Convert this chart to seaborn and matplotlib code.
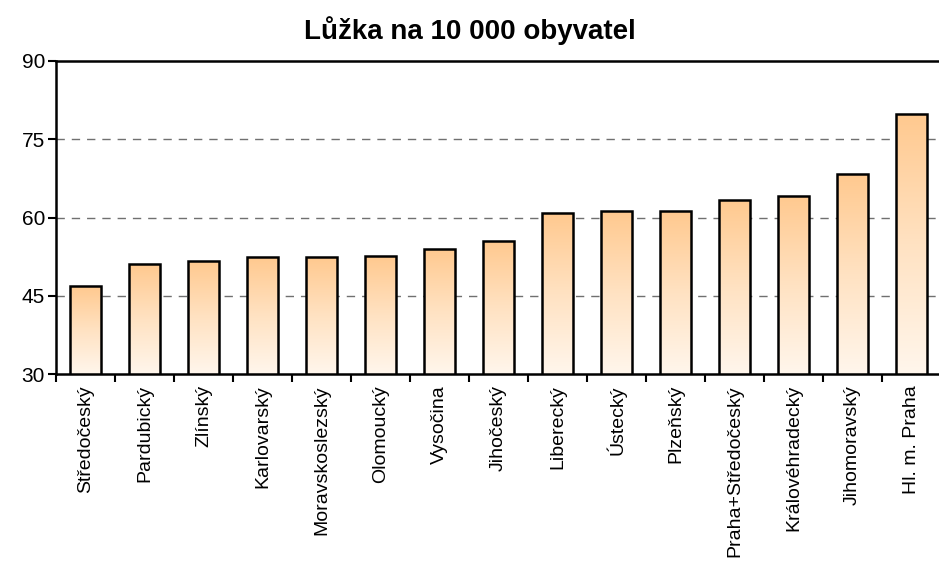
import matplotlib
matplotlib.use("Agg")
import matplotlib.pyplot as plt
import numpy as np
import pandas as pd
import seaborn as sns
from matplotlib.colors import LinearSegmentedColormap

# data
kraje = ["Středočeský", "Pardubický", "Zlínský", "Karlovarský", "Moravskoslezský",
         "Olomoucký", "Vysočina", "Jihočeský", "Liberecký", "Ústecký", "Plzeňský",
         "Praha+Středočeský", "Královéhradecký", "Jihomoravský", "Hl. m. Praha"]
luzka = [46.8, 51.0, 51.6, 52.4, 52.4, 52.6, 54.0, 55.4, 60.8, 61.2, 61.2,
         63.3, 64.2, 68.3, 79.8]
y_ticks = [30, 45, 60, 75, 90]

df = pd.DataFrame({"kraj": kraje, "luzka": luzka})

sns.set_style("white")
plt.rcParams['font.family'] = ['Liberation Sans', 'DejaVu Sans']
plt.rcParams['text.color'] = 'black'
plt.rcParams['xtick.color'] = 'black'
plt.rcParams['ytick.color'] = 'black'

fig = plt.figure(figsize=(9.39, 5.73), dpi=100)
ax = fig.add_axes([56 / 939, 199 / 573, 1 - 56 / 939 + 0.002, (374 - 61) / 573])

sns.barplot(data=df, x="kraj", y="luzka", color="white", width=0.52,
            edgecolor="black", linewidth=1.8, ax=ax, zorder=3)

# vertical orange -> white gradient inside every bar
grad = LinearSegmentedColormap.from_list("bar", ["#fff6ec", "#ffe2c2", "#ffc98f"])
gradient = np.linspace(0, 1, 256).reshape(-1, 1)
for patch in ax.patches:
    x0, y0 = patch.get_x(), patch.get_y()
    w, h = patch.get_width(), patch.get_height()
    im = ax.imshow(gradient, cmap=grad, aspect="auto", origin="lower",
                   extent=[x0, x0 + w, 30, y0 + h], zorder=2.5)
    im.set_clip_path(patch)
    patch.set_facecolor("none")

ax.set_xlim(-0.5, len(kraje) - 0.5)
ax.set_ylim(30, 90)
ax.set_yticks(y_ticks)
ax.set_yticklabels([str(t) for t in y_ticks], fontsize=15)
ax.set_xticks(range(len(kraje)))
ax.set_xticklabels(kraje, rotation=90, fontsize=14)
ax.set_xticks(np.arange(-0.5, len(kraje), 1.0), minor=True)
ax.tick_params(axis="x", which="major", length=0, pad=8)
ax.tick_params(axis="x", which="minor", length=6, width=1.5, direction="out", bottom=True)
ax.tick_params(axis="y", length=6, width=1.5, direction="out", left=True, pad=2)
ax.set_xlabel("")
ax.set_ylabel("")

for y in [45, 60, 75]:
    ax.axhline(y, color="#707070", lw=1, ls=(0, (6, 5)), zorder=1)

for side in ["left", "top", "bottom"]:
    ax.spines[side].set_linewidth(1.8)
    ax.spines[side].set_color("black")
ax.spines["right"].set_visible(False)

fig.text(0.5, 1 - 31 / 573, "Lůžka na 10 000 obyvatel", ha="center", va="center",
         fontsize=20, fontweight="bold", color="black")

fig.savefig("out.png", dpi=100)
